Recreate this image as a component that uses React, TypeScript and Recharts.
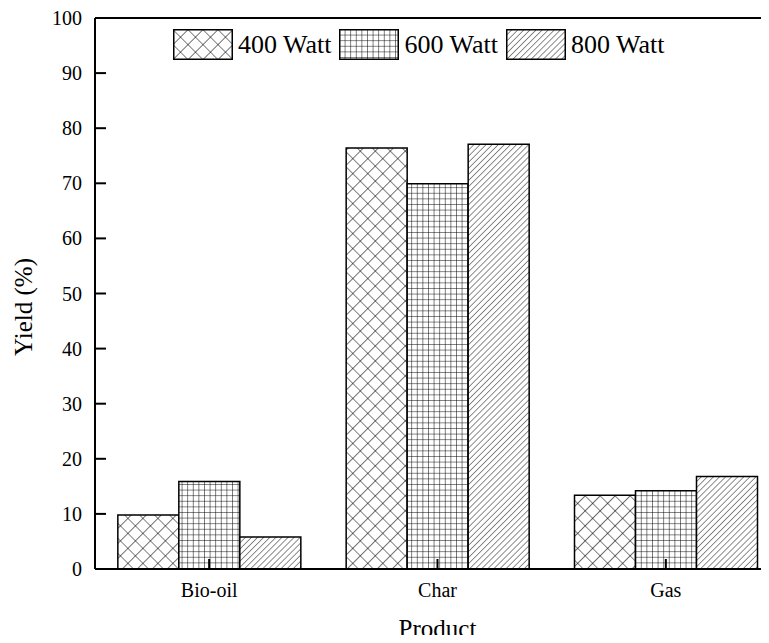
import { BarChart, Bar, XAxis, YAxis, Legend, ReferenceLine } from "recharts";

const products = ["Bio-oil", "Char", "Gas"];
const watt400 = [9.8, 76.4, 13.4];
const watt600 = [15.9, 69.9, 14.2];
const watt800 = [5.8, 77.1, 16.8];
const yTicks = [0, 10, 20, 30, 40, 50, 60, 70, 80, 90, 100];

const series = [
  { key: "w400", name: "400 Watt", pattern: "pat400" },
  { key: "w600", name: "600 Watt", pattern: "pat600" },
  { key: "w800", name: "800 Watt", pattern: "pat800" },
];

const data = products.map((p, i) => ({
  product: p,
  w400: watt400[i],
  w600: watt600[i],
  w800: watt800[i],
}));

const FONT = '"Liberation Serif", "Times New Roman", serif';

function Patterns() {
  return (
    <svg width="0" height="0" style={{ position: "absolute" }}>
      <defs>
        <pattern id="pat400" patternUnits="userSpaceOnUse" width="10.6" height="10.6" patternTransform="rotate(45)">
          <rect width="10.6" height="10.6" fill="#fff" />
          <path d="M0,0 L0,10.6 M0,0 L10.6,0" stroke="#000" strokeWidth="1.1" />
        </pattern>
        <pattern id="pat600" patternUnits="userSpaceOnUse" width="5.6" height="5.6">
          <rect width="5.6" height="5.6" fill="#fff" />
          <path d="M0,0 L0,5.6 M0,0 L5.6,0" stroke="#000" strokeWidth="1" />
        </pattern>
        <pattern id="pat800" patternUnits="userSpaceOnUse" width="4.3" height="4.3" patternTransform="rotate(45)">
          <rect width="4.3" height="4.3" fill="#fff" />
          <path d="M0,0 L0,4.3" stroke="#000" strokeWidth="0.9" />
        </pattern>
      </defs>
    </svg>
  );
}

const YTick = (props: any) => {
  const { x, y, payload } = props;
  return (
    <g>
      <line x1={x} y1={y} x2={x + 11} y2={y} stroke="#000" strokeWidth={2} />
      <text x={x - 13} y={y} textAnchor="end" dominantBaseline="central" fontSize={20} fontFamily={FONT} fill="#000">
        {payload.value}
      </text>
    </g>
  );
};

const XTick = (props: any) => {
  const { x, y, payload } = props;
  return (
    <g>
      <line x1={x} y1={y} x2={x} y2={y - 10} stroke="#000" strokeWidth={2} />
      <text x={x} y={y + 28} textAnchor="middle" fontSize={20} fontFamily={FONT} fill="#000">
        {payload.value}
      </text>
    </g>
  );
};

const renderLegend = () => (
  <div style={{ display: "flex", alignItems: "center", fontFamily: FONT, fontSize: 26, lineHeight: 1, color: "#000" }}>
    {series.map((s) => (
      <div key={s.key} style={{ display: "flex", alignItems: "center", marginRight: 8 }}>
        <svg width={60} height={31} style={{ marginRight: 5, display: "block" }}>
          <rect x={0.75} y={0.75} width={58.5} height={29.5} fill={`url(#${s.pattern})`} stroke="#000" strokeWidth={1.5} />
        </svg>
        <span style={{ whiteSpace: "nowrap" }}>{s.name}</span>
      </div>
    ))}
  </div>
);

export default function App() {
  return (
    <div style={{ width: 761, height: 635, overflow: "hidden", marginBottom: -8, position: "relative" }}>
      <Patterns />
      <BarChart
        width={790}
        height={635}
        data={data}
        margin={{ top: 10, right: 18, bottom: 0, left: 0 }}
        barGap={0}
        barCategoryGap="10%"
      >
        <XAxis
          dataKey="product"
          height={74}
          tickSize={0}
          tickMargin={0}
          tick={<XTick />}
          axisLine={{ stroke: "#000", strokeWidth: 2 }}
          tickLine={false}
          interval={0}
          label={{
            content: (p: any) => {
              const vb = p.viewBox;
              return (
                <text x={vb.x + vb.width / 2} y={629} textAnchor="middle" fontSize={25} fontFamily={FONT} fill="#000">
                  Product
                </text>
              );
            },
          }}
        />
        <YAxis
          width={87}
          domain={[0, 100]}
          ticks={yTicks}
          interval={0}
          tickSize={0}
          tickMargin={0}
          tick={<YTick />}
          axisLine={{ stroke: "#000", strokeWidth: 2 }}
          tickLine={false}
          label={{
            content: () => (
              <text x={24} y={299} transform="rotate(-90 24 299)" textAnchor="middle" fontSize={25} fontFamily={FONT} fill="#000">
                Yield (%)
              </text>
            ),
          }}
        />
        <ReferenceLine y={100} stroke="#000" strokeWidth={2} />
        <Legend
          verticalAlign="middle"
          align="center"
          content={renderLegend}
          wrapperStyle={{ top: 21, left: 165, width: "auto" }}
        />
        {series.map((s) => (
          <Bar
            key={s.key}
            dataKey={s.key}
            name={s.name}
            fill={`url(#${s.pattern})`}
            stroke="#000"
            strokeWidth={1.5}
            isAnimationActive={false}
          />
        ))}
      </BarChart>
    </div>
  );
}
